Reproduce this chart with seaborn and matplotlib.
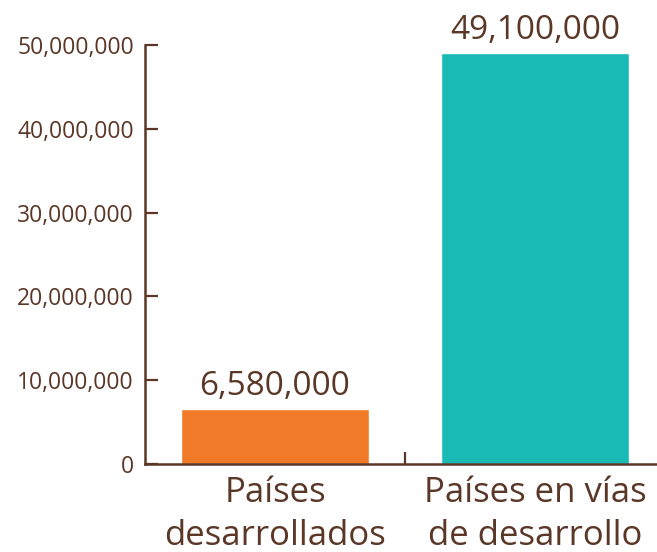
import matplotlib.pyplot as plt
import numpy as np
import pandas as pd
import seaborn as sns
from matplotlib.ticker import FuncFormatter, FixedLocator

categories = ["Países\ndesarrollados", "Países en vías\nde desarrollo"]
values = [6580000, 49100000]
bar_labels = ["6,580,000", "49,100,000"]
colors = ["#F07A28", "#19BAB6"]
yticks = [0, 10000000, 20000000, 30000000, 40000000, 50000000]

INK = "#5A3727"

sns.set_style("white")
plt.rcParams["font.family"] = ["Open Sans", "DejaVu Sans"]

df = pd.DataFrame({"cat": categories, "val": values})

fig = plt.figure(figsize=(6.57, 5.52), dpi=100)
ax = fig.add_axes([145 / 657, 88 / 552, 1 - 145 / 657, (464 - 45) / 552])

sns.barplot(data=df, x="cat", y="val", hue="cat", palette=colors,
            width=0.723, saturation=1, legend=False, ax=ax)

ax.set_xlim(-0.5, 1.47)
ax.set_ylim(0, 50000000)
ax.set_yticks(yticks)
ax.yaxis.set_major_formatter(FuncFormatter(lambda v, p: f"{int(v):,}"))
ax.tick_params(axis="y", left=True, direction="in", length=9, width=1.6, color=INK,
               labelcolor=INK, labelsize=16.5, pad=8)

# categories without ticks, one inward tick between them
ax.set_xticks([0, 1])
ax.set_xticklabels(categories, fontsize=25, color=INK, linespacing=1.32)
ax.tick_params(axis="x", length=0, pad=9)
ax.xaxis.set_minor_locator(FixedLocator([0.5]))
ax.tick_params(axis="x", which="minor", bottom=True, direction="in",
               length=9, width=1.6, color=INK)

for s in ["top", "right"]:
    ax.spines[s].set_visible(False)
for s in ["left", "bottom"]:
    ax.spines[s].set_color(INK)
    ax.spines[s].set_linewidth(1.8)

ax.set_xlabel("")
ax.set_ylabel("")

for i, (v, lab) in enumerate(zip(values, bar_labels)):
    ax.annotate(lab, (i, v), xytext=(0, 4), textcoords="offset points",
                ha="center", va="bottom", fontsize=24, color=INK,
                annotation_clip=False)

fig.savefig("out.png", dpi=100)
